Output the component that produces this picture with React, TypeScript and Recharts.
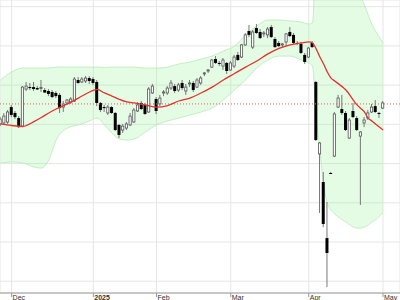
import React from 'react';
import {
  ComposedChart, Bar, Line, Area, XAxis, YAxis, CartesianGrid, ReferenceLine,
} from 'recharts';

// daily candles, one per trading day (index 0 = last days of Nov)
const opens = [
  280.2, 280.7, 281.2, 288.8, 285.8, 283.2, 279.1, 298.0, 299.0, 299.0,
  298.5, 298.3, 297.5, 297.0, 296.5, 296.0, 295.0, 288.8, 290.9, 291.4,
  291.9, 302.6, 301.6, 302.1, 303.6, 303.1, 301.6, 290.9, 288.8, 285.8,
  288.8, 285.8, 279.7, 277.1, 278.1, 279.7, 281.2, 286.8, 290.9, 289.9,
  286.3, 296.0, 292.9, 290.4, 296.0, 296.0, 298.5, 299.5, 297.5, 301.1,
  297.0, 300.6, 301.1, 299.0, 301.1, 305.7, 307.2, 309.2, 313.3, 311.3,
  309.7, 311.3, 307.7, 309.7, 315.4, 314.3, 320.5, 327.6, 319.4, 329.1,
  327.1, 326.1, 325.6, 329.6, 323.5, 321.5, 320.5, 322.0, 327.1, 325.6,
  321.5, 321.0, 315.4, 314.3, 321.5, 301.6, 264.9, 250.6, 222.0, 255.2,
  263.8, 288.8, 287.8, 285.8, 273.0, 286.8, 283.2, 274.0, 280.7, 283.2,
  286.3, 289.3, 285.8, 288.3,
];
const highs = [
  283.7, 285.8, 287.3, 289.9, 286.8, 284.2, 299.5, 301.6, 301.1, 301.6,
  299.5, 302.6, 298.5, 298.0, 297.5, 297.0, 296.0, 291.9, 292.9, 293.9,
  304.1, 304.1, 304.1, 304.6, 304.6, 304.1, 302.6, 291.4, 289.9, 289.9,
  289.3, 286.3, 280.2, 280.2, 281.2, 285.8, 288.3, 291.4, 291.9, 290.9,
  299.0, 300.6, 293.9, 295.0, 297.5, 299.5, 302.6, 300.6, 301.1, 302.6,
  300.6, 302.6, 302.1, 303.6, 304.6, 306.7, 308.2, 313.3, 314.8, 312.3,
  313.8, 311.8, 312.3, 315.4, 316.9, 321.0, 326.6, 330.7, 328.1, 331.2,
  328.6, 327.6, 329.6, 330.7, 324.5, 322.5, 321.5, 326.6, 329.6, 326.6,
  322.5, 322.0, 316.4, 319.4, 322.5, 302.1, 271.0, 255.7, 240.4, 255.7,
  286.3, 295.0, 295.0, 286.8, 283.2, 290.9, 284.2, 276.6, 283.7, 287.3,
  290.4, 292.4, 286.3, 291.9,
];
const lows = [
  279.1, 280.2, 280.2, 283.7, 282.7, 278.1, 278.6, 297.0, 297.5, 297.0,
  297.5, 296.5, 296.0, 294.4, 293.4, 293.4, 285.8, 286.3, 289.9, 290.4,
  291.4, 300.6, 301.1, 301.1, 300.6, 300.1, 289.3, 286.3, 286.3, 284.8,
  285.3, 276.6, 273.0, 275.6, 277.1, 279.1, 280.7, 286.3, 287.3, 284.8,
  285.8, 295.5, 285.3, 289.3, 294.4, 295.0, 297.5, 296.0, 296.5, 297.5,
  295.0, 299.0, 296.5, 298.5, 300.1, 304.6, 306.2, 308.7, 310.8, 309.7,
  307.7, 305.7, 307.2, 308.7, 312.3, 313.8, 320.0, 324.5, 318.4, 326.1,
  323.5, 324.5, 324.0, 324.0, 318.9, 319.4, 319.4, 320.0, 324.5, 321.0,
  320.5, 315.9, 310.8, 313.8, 318.9, 271.5, 234.8, 227.6, 197.0, 254.7,
  263.3, 288.3, 284.8, 276.6, 272.5, 283.2, 276.6, 238.9, 278.6, 282.2,
  285.8, 285.8, 283.2, 287.8,
];
const closes = [
  282.7, 284.2, 286.3, 284.8, 283.7, 278.6, 299.0, 299.5, 298.5, 298.0,
  297.8, 298.8, 296.2, 295.5, 293.9, 294.4, 288.3, 290.4, 292.4, 292.9,
  303.1, 301.1, 303.1, 303.6, 302.1, 301.1, 290.9, 287.3, 288.3, 288.8,
  285.8, 277.1, 274.6, 279.1, 280.2, 284.2, 287.3, 289.9, 287.8, 285.3,
  298.0, 299.5, 286.8, 293.4, 296.5, 298.5, 301.1, 297.0, 300.1, 298.5,
  299.0, 301.1, 297.5, 302.6, 303.6, 306.2, 307.7, 312.8, 311.3, 310.8,
  312.8, 307.2, 311.3, 314.3, 312.8, 320.5, 325.6, 325.6, 327.1, 326.6,
  324.0, 326.6, 328.6, 324.5, 319.4, 319.9, 321.0, 326.1, 325.0, 321.5,
  321.2, 316.4, 311.8, 318.9, 319.4, 272.0, 270.5, 229.2, 214.4, 254.9,
  285.3, 293.4, 285.8, 277.1, 282.2, 283.7, 277.1, 276.1, 282.2, 285.8,
  288.8, 286.3, 285.5, 290.9,
];

// moving average and bands, read at these candle indexes
const bandIdx = [
  0, 3, 6, 9, 11, 13, 15, 18, 21, 24, 26, 28, 30, 32, 34, 36, 39, 42, 45, 48,
  51, 54, 57, 60, 63, 66, 69, 72, 75, 78, 81, 83, 84, 85, 86, 87, 88, 89, 90, 93,
  96, 97, 98, 99, 100, 101, 102, 103,
];
const maVals = [
  280.2, 279.4, 278.9, 281.4, 283.5, 285.8, 287.8, 290.4, 293.4, 296.5, 297.8, 296.0,
  294.4, 292.7, 291.4, 290.9, 289.9, 288.8, 289.6, 291.9, 293.4, 296.0, 299.0, 302.6,
  305.9, 309.2, 312.3, 315.9, 318.7, 320.5, 321.5, 322.0, 321.5, 318.4, 314.3, 310.8,
  306.7, 303.6, 302.1, 297.5, 289.9, 288.1, 286.3, 283.2, 281.7, 280.2, 278.6, 277.1,
];
const upperVals = [
  302.6, 306.7, 308.7, 308.7, 308.7, 308.7, 309.2, 309.2, 309.2, 309.2, 309.2, 309.0,
  309.2, 309.2, 309.2, 309.2, 308.7, 308.7, 309.2, 310.8, 311.8, 313.3, 314.8, 317.4,
  319.9, 325.6, 330.1, 333.2, 333.2, 332.7, 332.2, 331.2, 331.7, 372.0, 385.0, 392.0,
  396.0, 397.0, 396.0, 385.0, 350.0, 344.9, 340.9, 335.8, 331.2, 327.6, 324.5, 321.5,
];
const lowerVals = [
  260.3, 260.8, 260.3, 258.2, 257.7, 261.8, 272.0, 278.1, 279.7, 281.7, 283.2, 279.7,
  275.6, 272.5, 272.0, 272.5, 276.1, 279.7, 281.7, 283.2, 284.7, 286.3, 288.3, 292.4,
  297.5, 302.6, 308.7, 312.8, 314.8, 314.8, 312.8, 311.3, 309.7, 284.7, 266.9, 249.1,
  239.9, 236.3, 234.3, 230.2, 227.1, 227.1, 227.6, 228.6, 230.2, 231.2, 233.2, 234.8,
];

const tickIdx = [3, 25, 42, 62, 83, 103];
const tickLabels = ['Dec', '2025', 'Feb', 'Mar', 'Apr', 'May'];
const gridPrices = [200, 210, 220, 230, 240, 250, 260, 270, 280, 290, 300, 310, 320, 330, 340];
const refPrice = 290.4;

const data = opens.map((o, i) => {
  const row: any = { i, open: o, high: highs[i], low: lows[i], close: closes[i] };
  const k = bandIdx.indexOf(i);
  if (k >= 0) {
    row.ma = maVals[k];
    row.band = [lowerVals[k], upperVals[k]];
  }
  return row;
});

const Candle = (props: any) => {
  const { x, y, width, height, payload } = props;
  const { open, close, high, low } = payload;
  const cx = x + width / 2;
  const top = Math.min(y, y + height);
  const h = Math.abs(height);
  const k = high - low > 0 ? h / (high - low) : 0;
  const yOf = (v: number) => top + (high - v) * k;
  const bTop = yOf(Math.max(open, close));
  const bBot = yOf(Math.min(open, close));
  const up = close >= open;
  return (
    <g>
      <line x1={cx} x2={cx} y1={top} y2={top + h} stroke="#777" strokeWidth={1} />
      {up ? (
        <rect x={cx - 1.1} y={bTop} width={2.2} height={Math.max(bBot - bTop, 0.8)}
          fill="#fff" stroke="#555" strokeWidth={0.8} />
      ) : (
        <rect x={cx - 1.5} y={bTop} width={3} height={Math.max(bBot - bTop, 1)} fill="#000" />
      )}
    </g>
  );
};

const MonthTick = ({ x, y, payload }: any) => {
  const label = tickLabels[tickIdx.indexOf(payload.value)];
  return (
    <text x={x + 1} y={y + 1} fontSize={7} fill="#333"
      fontFamily="'Liberation Sans', Arial, sans-serif"
      fontWeight={label === '2025' ? 'bold' : 'normal'}>
      {label}
    </text>
  );
};

export default function App() {
  return (
    <div style={{ position: 'absolute', left: 0, top: 0, width: 400, height: 300, background: '#fff', overflow: 'hidden' }}>
      <ComposedChart width={400} height={300} data={data} margin={{ top: 0, right: 0, left: 0, bottom: 0 }}>
        <CartesianGrid stroke="#e6e6e6" />
        <XAxis
          dataKey="i" type="number" domain={[-0.13, 107.57]} allowDataOverflow
          ticks={tickIdx} interval={0} height={7}
          axisLine={{ stroke: '#999' }} tickLine={{ stroke: '#999' }} tickSize={4}
          tick={<MonthTick />}
        />
        <YAxis hide domain={[194, 343.4]} allowDataOverflow ticks={gridPrices} />
        <Area
          dataKey="band" type="monotone" connectNulls
          fill="#90ee90" fillOpacity={0.24} stroke="#b8ebb8" strokeWidth={0.8}
          dot={false} activeDot={false} isAnimationActive={false}
        />
        <ReferenceLine y={refPrice} stroke="#e06060" strokeDasharray="1 2" />
        <Line
          dataKey="ma" type="monotone" connectNulls dot={false} activeDot={false}
          stroke="#e8302c" strokeWidth={1.3} isAnimationActive={false}
        />
        <Bar
          dataKey={(d: any) => [d.low, d.high]} barSize={3}
          shape={<Candle />} activeBar={false} isAnimationActive={false}
        />
      </ComposedChart>
    </div>
  );
}
